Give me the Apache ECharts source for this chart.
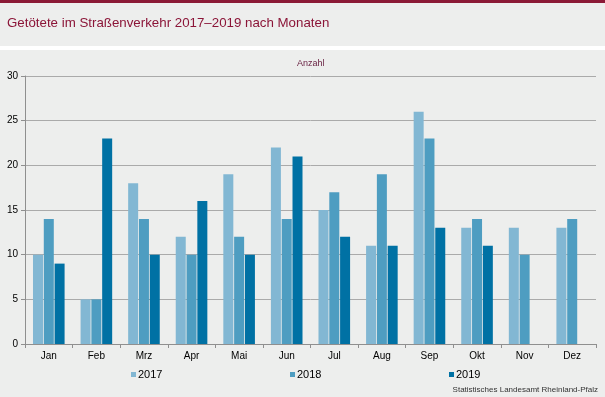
<!DOCTYPE html>
<html>
<head>
<meta charset="utf-8">
<script src="https://cdn.jsdelivr.net/npm/echarts@6/dist/echarts.min.js"></script>
<style>
html,body{margin:0;padding:0;background:#edeeed;}
#c{width:605px;height:397px;}
</style>
</head>
<body>
<div id="c"></div>
<script>
const months = ['Jan','Feb','Mrz','Apr','Mai','Jun','Jul','Aug','Sep','Okt','Nov','Dez'];
const years = ['2017','2018','2019'];
const v2017 = [10,5,18,12,19,22,15,11,26,13,13,13];
const v2018 = [14,5,14,10,12,14,17,19,23,14,10,14];
const v2019 = [9,23,10,16,10,21,12,11,13,11,null,null];
const yTicks = [0,5,10,15,20,25,30];
const colors = ['#82b7d3','#4e9dc1','#0071a4'];

const chart = echarts.init(document.getElementById('c'), null, {renderer:'canvas'});
const font = '"Liberation Sans", Arial, sans-serif';
const legendLefts = [131, 290, 449];
chart.setOption({
  backgroundColor: '#edeeed',
  animation: false,
  textStyle: {fontFamily: font},
  graphic: [
    {type:'rect', shape:{x:0,y:0,width:605,height:3}, style:{fill:'#8b1a36'}},
    {type:'rect', shape:{x:0,y:46,width:605,height:4}, style:{fill:'#ffffff'}},
    {type:'text', left:7, top:17, style:{text:'Getötete im Straßenverkehr 2017–2019 nach Monaten', fill:'#8b1538', font:'13.3px ' + font}},
    {type:'text', left:297, top:59, style:{text:'Anzahl', fill:'#6a2444', font:'9px ' + font}},
    {type:'text', right:7, top:386, style:{text:'Statistisches Landesamt Rheinland-Pfalz', fill:'#333333', font:'8px ' + font}}
  ],
  grid: {left:25, right:9, top:76, bottom:53, containLabel:false},
  legend: years.map((y,i)=>({
    data:[y], left: legendLefts[i], top: 369, padding:0, itemWidth:5, itemHeight:5, itemGap:0,
    icon:'rect', textStyle:{fontSize:11, color:'#000', fontFamily:font, padding:[0,0,0,-3]}, selectedMode:false
  })),
  xAxis: {
    type:'category', data: months,
    axisLine:{lineStyle:{color:'#8f8f8f'}},
    axisTick:{show:true, length:4, lineStyle:{color:'#8f8f8f'}},
    axisLabel:{color:'#000', fontSize:10, margin:7, fontFamily:font}
  },
  yAxis: {
    type:'value', min:0, max:30, interval:5,
    axisLine:{show:true, lineStyle:{color:'#8f8f8f'}},
    axisTick:{show:true, length:4, lineStyle:{color:'#8f8f8f'}},
    splitLine:{lineStyle:{color:'#aaaaaa'}},
    axisLabel:{color:'#000', fontSize:10, margin:7, fontFamily:font,
      formatter: v => yTicks.includes(v) ? String(v) : ''}
  },
  series: [v2017, v2018, v2019].map((d,i)=>({
    name: years[i], type:'bar', data:d, barWidth:10, barGap:'8%',
    itemStyle:{color:colors[i]}
  }))
});
</script>
</body>
</html>
